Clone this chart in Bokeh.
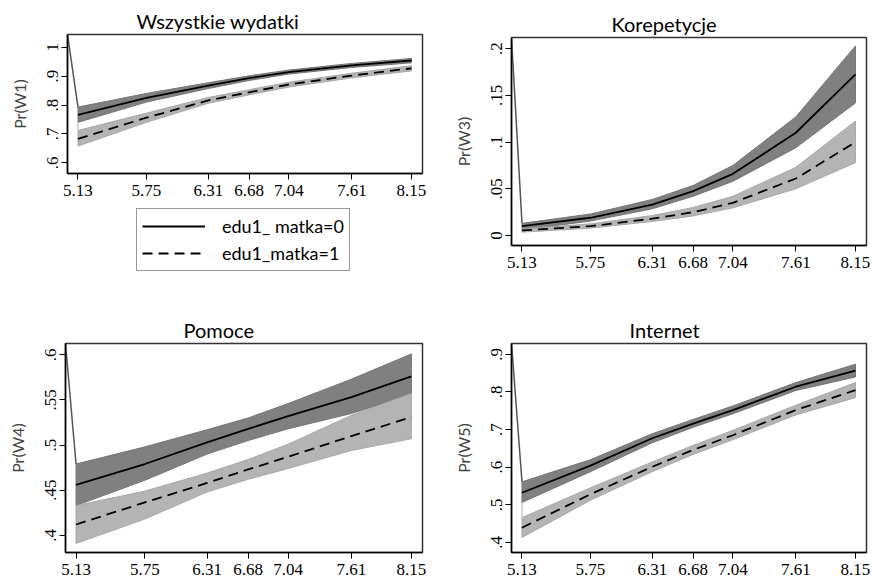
from bokeh.plotting import figure
from bokeh.layouts import column, row
from bokeh.models import FixedTicker, Legend, LegendItem
from bokeh.embed import file_html
from bokeh.resources import INLINE

# ---------------- data ----------------
x_vals = [5.13, 5.75, 6.31, 6.68, 7.04, 7.61, 8.15]
x_labels = ["5.13", "5.75", "6.31", "6.68", "7.04", "7.61", "8.15"]

titles = ["Wszystkie wydatki", "Korepetycje", "Pomoce", "Internet"]
ylabels = ["Pr(W1)", "Pr(W3)", "Pr(W4)", "Pr(W5)"]
legend_labels = ["edu1_ matka=0", "edu1_matka=1"]

# W1
w1_m0 = [0.766, 0.825, 0.867, 0.893, 0.914, 0.937, 0.954]
w1_lo0 = [0.740, 0.810, 0.857, 0.885, 0.907, 0.930, 0.946]
w1_hi0 = [0.793, 0.840, 0.877, 0.901, 0.921, 0.944, 0.961]
w1_m1 = [0.683, 0.756, 0.816, 0.844, 0.871, 0.902, 0.927]
w1_lo1 = [0.658, 0.740, 0.806, 0.835, 0.862, 0.894, 0.918]
w1_hi1 = [0.712, 0.772, 0.826, 0.853, 0.879, 0.910, 0.936]
w1_ticks = [0.6, 0.7, 0.8, 0.9, 1.0]
w1_tick_labels = [".6", ".7", ".8", ".9", "1"]

# W3
w3_m0 = [0.010, 0.019, 0.033, 0.0475, 0.066, 0.110, 0.1725]
w3_lo0 = [0.006, 0.0154, 0.0286, 0.042, 0.058, 0.094, 0.142]
w3_hi0 = [0.013, 0.023, 0.0386, 0.0536, 0.075, 0.127, 0.203]
w3_m1 = [0.0054, 0.010, 0.018, 0.025, 0.035, 0.061, 0.100]
w3_lo1 = [0.0036, 0.0079, 0.015, 0.021, 0.0296, 0.050, 0.078]
w3_hi1 = [0.007, 0.0125, 0.0214, 0.030, 0.042, 0.073, 0.1225]
w3_ticks = [0.0, 0.05, 0.1, 0.15, 0.2]
w3_tick_labels = ["0", ".05", ".1", ".15", ".2"]

# W4
w4_m0 = [0.456, 0.479, 0.503, 0.518, 0.532, 0.553, 0.576]
w4_lo0 = [0.433, 0.461, 0.490, 0.505, 0.518, 0.535, 0.556]
w4_hi0 = [0.479, 0.498, 0.517, 0.530, 0.546, 0.573, 0.601]
w4_m1 = [0.412, 0.4365, 0.458, 0.473, 0.487, 0.510, 0.531]
w4_lo1 = [0.391, 0.418, 0.448, 0.462, 0.474, 0.494, 0.507]
w4_hi1 = [0.433, 0.449, 0.469, 0.484, 0.501, 0.533, 0.557]
w4_ticks = [0.4, 0.45, 0.5, 0.55, 0.6]
w4_tick_labels = [".4", ".45", ".5", ".55", ".6"]

# W5
w5_m0 = [0.532, 0.604, 0.677, 0.716, 0.752, 0.814, 0.857]
w5_lo0 = [0.506, 0.588, 0.665, 0.706, 0.742, 0.804, 0.840]
w5_hi0 = [0.561, 0.620, 0.689, 0.727, 0.763, 0.825, 0.874]
w5_m1 = [0.439, 0.528, 0.601, 0.646, 0.685, 0.752, 0.805]
w5_lo1 = [0.413, 0.512, 0.588, 0.634, 0.673, 0.739, 0.785]
w5_hi1 = [0.466, 0.545, 0.614, 0.658, 0.698, 0.765, 0.825]
w5_ticks = [0.4, 0.5, 0.6, 0.7, 0.8, 0.9]
w5_tick_labels = [".4", ".5", ".6", ".7", ".8", ".9"]

# ---------------- style ----------------
SERIF = "Liberation Serif"
SANS = "Lato"
DARK_FILL = "#808080"
DARK_EDGE = "#747474"
LIGHT_FILL = "#b4b4b4"
LIGHT_EDGE = "#a8a8a8"
X_RANGE = (5.035, 8.25)
DASH = "10 6"


def make_panel(title, ylabel, m0, lo0, hi0, m1, lo1, hi1, yticks, ytlabels,
               y_range, width, height, bl, br, bt, bb, title_offset):
    p = figure(width=width, height=height, x_range=X_RANGE, y_range=y_range,
               output_backend="svg", toolbar_location=None,
               min_border_left=bl, min_border_right=br,
               min_border_top=bt, min_border_bottom=bb)
    p.background_fill_color = "white"
    p.border_fill_color = "white"
    p.outline_line_color = "#333333"
    p.outline_line_width = 1.5
    p.grid.visible = False

    p.title.text = title
    p.title.text_font = SANS
    p.title.text_font_size = "20px"
    p.title.text_font_style = "normal"
    p.title.text_color = "black"
    p.title.align = "left"
    p.title.offset = title_offset
    p.title.standoff = 4

    xa = p.xaxis[0]
    xa.ticker = FixedTicker(ticks=x_vals)
    xa.major_label_overrides = {v: s for v, s in zip(x_vals, x_labels)}
    ya = p.yaxis[0]
    ya.ticker = FixedTicker(ticks=yticks)
    ya.major_label_overrides = {v: s for v, s in zip(yticks, ytlabels)}
    ya.major_label_orientation = "vertical"
    ya.axis_label = ylabel
    ya.axis_label_text_font = SANS
    ya.axis_label_text_font_size = "16px"
    ya.axis_label_text_font_style = "normal"
    ya.axis_label_standoff = 16
    for ax in (xa, ya):
        ax.axis_line_color = "black"
        ax.axis_line_width = 1.5
        ax.major_tick_line_color = "black"
        ax.major_tick_in = 0
        ax.major_tick_out = 6
        ax.minor_tick_line_color = None
        ax.major_label_text_font = SERIF
        ax.major_label_text_font_size = "17px"
        ax.major_label_text_color = "black"
    xa.major_label_standoff = 5
    ya.major_label_standoff = 3

    # confidence bands
    p.patch(x_vals + x_vals[::-1], hi0 + lo0[::-1], fill_color=DARK_FILL,
            line_color=DARK_EDGE, line_width=1)
    p.patch(x_vals + x_vals[::-1], hi1 + lo1[::-1], fill_color=LIGHT_FILL,
            line_color=LIGHT_EDGE, line_width=1)
    # stray connector lines of the original band outline
    p.line([X_RANGE[0], x_vals[0]], [y_range[1], hi0[0]], line_color="#555555", line_width=1.5)
    p.segment(x0=[x_vals[0]], y0=[lo0[0]], x1=[x_vals[0]], y1=[hi1[0]],
              line_color="#c8c8c8", line_width=1.5)

    p.line(x_vals, m0, line_color="black", line_width=1.8)
    p.line(x_vals, m1, line_color="black", line_width=1.8, line_dash=DASH)
    return p


p1 = make_panel(titles[0], ylabels[0], w1_m0, w1_lo0, w1_hi0, w1_m1, w1_lo1, w1_hi1,
                w1_ticks, w1_tick_labels, (0.563, 1.044),
                436, 200, 67, 14, 34, 27, 69)
p2 = make_panel(titles[1], ylabels[1], w3_m0, w3_lo0, w3_hi0, w3_m1, w3_lo1, w3_hi1,
                w3_ticks, w3_tick_labels, (-0.0107, 0.212),
                436, 298, 75, 6, 37, 53, 100)
p3 = make_panel(titles[2], ylabels[2], w4_m0, w4_lo0, w4_hi0, w4_m1, w4_lo1, w4_hi1,
                w4_ticks, w4_tick_labels, (0.381, 0.6125),
                436, 284, 65, 14, 45, 30, 118)
p4 = make_panel(titles[3], ylabels[3], w5_m0, w5_lo0, w5_hi0, w5_m1, w5_lo1, w5_hi1,
                w5_ticks, w5_tick_labels, (0.373, 0.929),
                436, 284, 75, 6, 45, 30, 118)

# legend in its own small figure under the first panel (its sample lines lie
# outside this figure's visible ranges; only the legend box is seen)
leg_fig = figure(width=436, height=98, output_backend="svg", toolbar_location=None,
                 x_range=(0, 1), y_range=(0, 1),
                 x_axis_location=None, y_axis_location=None,
                 min_border_left=0, min_border_right=0, min_border_top=0, min_border_bottom=0)
leg_fig.outline_line_color = None
leg_fig.grid.visible = False
r0 = leg_fig.line(x=x_vals, y=w1_m0, line_color="black", line_width=1.8)
r1 = leg_fig.line(x=x_vals, y=w1_m1, line_color="black", line_width=1.8, line_dash=DASH)
lg = Legend(items=[LegendItem(label=legend_labels[0], renderers=[r0]),
                   LegendItem(label=legend_labels[1], renderers=[r1])],
            location=(69, 27), orientation="vertical")
lg.label_text_font = SANS
lg.label_text_font_size = "18px"
lg.label_text_color = "black"
lg.glyph_width = 63
lg.glyph_height = 24
lg.label_height = 24
lg.label_standoff = 17
lg.spacing = 3
lg.padding = 5
lg.border_line_color = "#333333"
lg.border_line_width = 1.2
lg.background_fill_alpha = 1.0
leg_fig.add_layout(lg)

layout = column(row(column(p1, leg_fig), p2), row(p3, p4))
open("out.html", "w").write(file_html(layout, INLINE))
